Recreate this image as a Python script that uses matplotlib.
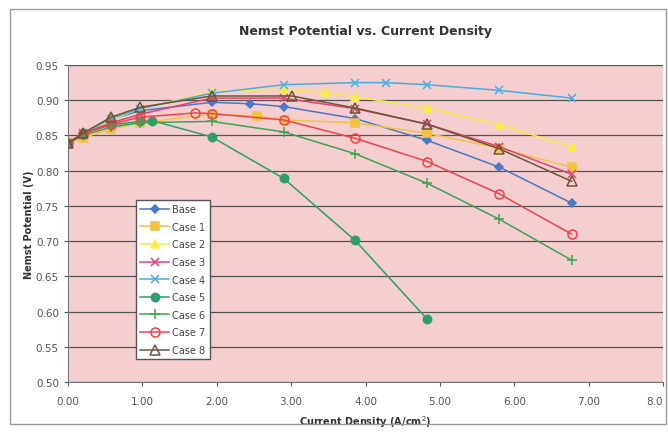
import matplotlib
matplotlib.use("Agg")
import matplotlib.pyplot as plt
from matplotlib.patches import Rectangle

# data
base_x = [0, 0.2, 0.58, 0.97, 1.93, 2.45, 2.9, 3.86, 4.83, 5.8, 6.77]
base_y = [0.839, 0.853, 0.873, 0.885, 0.897, 0.895, 0.891, 0.874, 0.843, 0.805, 0.754]
case1_x = [0, 0.2, 0.58, 0.97, 1.93, 2.54, 2.9, 3.86, 4.83, 5.8, 6.77]
case1_y = [0.839, 0.847, 0.859, 0.868, 0.880, 0.878, 0.872, 0.868, 0.853, 0.832, 0.805]
case2_x = [0, 0.2, 0.58, 0.97, 1.93, 2.9, 3.46, 3.86, 4.83, 5.8, 6.77]
case2_y = [0.839, 0.853, 0.872, 0.888, 0.912, 0.916, 0.911, 0.905, 0.889, 0.865, 0.834]
case3_x = [0, 0.2, 0.58, 0.97, 1.93, 2.9, 3.86, 4.83, 5.8, 6.77]
case3_y = [0.839, 0.853, 0.868, 0.880, 0.903, 0.903, 0.888, 0.866, 0.834, 0.795]
case4_x = [0, 0.2, 0.58, 0.97, 1.93, 2.9, 3.86, 4.28, 4.83, 5.8, 6.77]
case4_y = [0.839, 0.853, 0.874, 0.888, 0.910, 0.922, 0.925, 0.925, 0.922, 0.914, 0.903]
case5_x = [0, 0.2, 0.58, 0.97, 1.13, 1.93, 2.9, 3.86, 4.83]
case5_y = [0.839, 0.853, 0.865, 0.870, 0.871, 0.848, 0.789, 0.701, 0.589]
case6_x = [0, 0.2, 0.58, 0.97, 1.93, 2.9, 3.86, 4.83, 5.8, 6.77]
case6_y = [0.839, 0.850, 0.862, 0.868, 0.870, 0.855, 0.824, 0.782, 0.731, 0.673]
case7_x = [0, 0.2, 0.58, 0.97, 1.71, 1.93, 2.9, 3.86, 4.83, 5.8, 6.77]
case7_y = [0.839, 0.852, 0.866, 0.876, 0.882, 0.881, 0.872, 0.846, 0.813, 0.767, 0.710]
case8_x = [0, 0.2, 0.58, 0.97, 1.93, 3.01, 3.86, 4.83, 5.8, 6.77]
case8_y = [0.839, 0.853, 0.876, 0.890, 0.906, 0.906, 0.889, 0.866, 0.831, 0.785]

labels = ["Base", "Case 1", "Case 2", "Case 3", "Case 4", "Case 5", "Case 6", "Case 7", "Case 8"]
xs = [base_x, case1_x, case2_x, case3_x, case4_x, case5_x, case6_x, case7_x, case8_x]
ys = [base_y, case1_y, case2_y, case3_y, case4_y, case5_y, case6_y, case7_y, case8_y]
xtick_labels = ["0.00", "1.00", "2.00", "3.00", "4.00", "5.00", "6.00", "7.00", "8.0"]

colors = ["#4a78c6", "#f6c243", "#f8ee45", "#e4426e", "#4aaee2",
          "#2e9e6e", "#3fa451", "#f0434b", "#6e5538"]
markers = ["D", "s", "^", "x", "x", "o", "+", "o", "^"]
sizes = [4, 5.5, 5.5, 5.5, 5.5, 6, 6.5, 6.5, 6.5]

fig = plt.figure(figsize=(6.68, 4.35), dpi=100)
fig.patches.append(Rectangle((10 / 668, 10 / 435), 656 / 668, 415 / 435,
                             transform=fig.transFigure, fill=False,
                             edgecolor="#999999", linewidth=1.0))
ax = fig.add_axes([68 / 668, 1 - 383 / 435, 595 / 668, 317 / 435])
ax.set_facecolor("#f5cfcf")

for x, y, lab, c, m, s in zip(xs, ys, labels, colors, markers, sizes):
    open_marker = lab in ("Case 7", "Case 8")
    ax.plot(x, y, color=c, marker=m, markersize=s, linewidth=1.1, label=lab,
            markerfacecolor="none" if open_marker else c,
            markeredgecolor=c, markeredgewidth=1.1)

ax.set_xlim(0, 8)
ax.set_ylim(0.5, 0.95)
ax.set_xticks([0, 1, 2, 3, 4, 5, 6, 7, 8])
ax.set_xticklabels(xtick_labels)
ax.get_xticklabels()[-1].set_horizontalalignment("right")
ax.set_yticks([0.5, 0.55, 0.6, 0.65, 0.7, 0.75, 0.8, 0.85, 0.9, 0.95])
ax.set_yticklabels([f"{v:.2f}" for v in ax.get_yticks()])
ax.grid(axis="y", color="#555555", linewidth=0.9)
ax.set_axisbelow(True)
ax.tick_params(labelsize=7.5, colors="#555555", length=3)
ax.tick_params(axis="x", pad=7)
for side in ("top", "right"):
    ax.spines[side].set_visible(False)
for side in ("left", "bottom"):
    ax.spines[side].set_color("#777777")

ax.set_title("Nemst Potential vs. Current Density", fontsize=9, fontweight="bold",
             color="#333333", pad=22)
ax.set_xlabel("Current Density (A/cm$^2$)", fontsize=7, fontweight="bold",
              color="#333333", labelpad=5)
ax.set_ylabel("Nemst Potential (V)", fontsize=7, fontweight="bold", color="#333333", labelpad=1)

leg = ax.legend(loc="upper left", bbox_to_anchor=(63 / 595, 1 - (196 - 66) / 317),
                fontsize=7, frameon=True, fancybox=False, framealpha=1,
                edgecolor="#555555", handlelength=3, labelspacing=0.78,
                borderpad=0.45, handletextpad=0.3)
for t in leg.get_texts():
    t.set_color("#444444")

fig.savefig("out.png", dpi=100)
